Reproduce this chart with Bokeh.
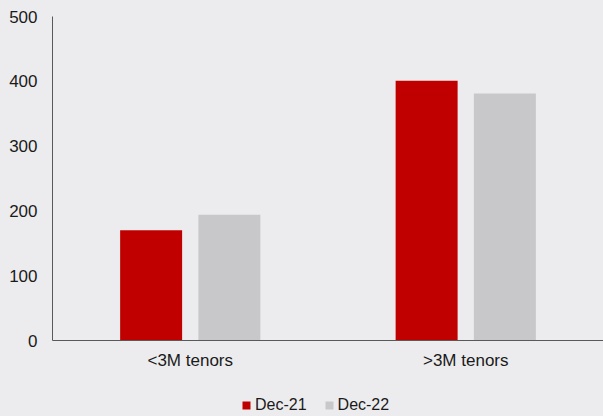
from bokeh.plotting import figure
from bokeh.layouts import column
from bokeh.models import Range1d, FixedTicker, Legend, LegendItem, ColumnDataSource
from bokeh.embed import file_html
from bokeh.resources import INLINE

categories = ["<3M tenors", ">3M tenors"]
series_names = ["Dec-21", "Dec-22"]
dec21 = [170, 401]
dec22 = [194, 381]
y_ticks = [0, 100, 200, 300, 400, 500]

BG = "#ECECEE"
RED = "#C00000"
GRAY = "#C8C8CA"
FONT = "Liberation Sans"

centers = [i + 0.5 for i in range(len(categories))]
offset = 0.142
bw = 0.225

p = figure(width=603, height=384, output_backend="svg",
           toolbar_location=None, x_range=Range1d(0, 2.0), y_range=Range1d(0, 500),
           min_border_left=52, min_border_right=0, min_border_top=16, min_border_bottom=44,
           background_fill_color=BG, border_fill_color=BG, outline_line_color=None)

src1 = ColumnDataSource(dict(x=[c - offset for c in centers], top=dec21))
src2 = ColumnDataSource(dict(x=[c + offset for c in centers], top=dec22))
r1 = p.vbar(x="x", top="top", width=bw, source=src1, fill_color=RED, line_color=None)
r2 = p.vbar(x="x", top="top", width=bw, source=src2, fill_color=GRAY, line_color=None)

p.xgrid.visible = False
p.ygrid.visible = False

for ax in (p.xaxis[0], p.yaxis[0]):
    ax.axis_line_color = "#595959"
    ax.axis_line_width = 1
    ax.major_tick_line_color = None
    ax.minor_tick_line_color = None
    ax.major_tick_out = 0
    ax.major_tick_in = 0
    ax.major_label_text_font = FONT
    ax.major_label_text_font_size = "17px"
    ax.major_label_text_color = "#1a1a1a"

p.yaxis[0].ticker = FixedTicker(ticks=y_ticks)
p.yaxis[0].major_label_standoff = 15
p.xaxis[0].ticker = FixedTicker(ticks=centers)
p.xaxis[0].major_label_overrides = {c: name for c, name in zip(centers, categories)}
p.xaxis[0].major_label_standoff = 10

# legend strip below the chart (its frame is aligned with the chart's frame)
lg = figure(width=603, height=32, output_backend="svg", toolbar_location=None,
            x_axis_type=None, y_axis_type=None, x_range=Range1d(0, 1), y_range=Range1d(0, 1),
            min_border=0, background_fill_color=BG, border_fill_color=BG,
            outline_line_color=None)
lg.xgrid.visible = False
lg.ygrid.visible = False
# swatch-only renderers placed outside the visible range
d1 = lg.vbar(x=[0.5], bottom=[-3], top=[-2], width=0.1, fill_color=RED, line_color=None)
d2 = lg.vbar(x=[0.5], bottom=[-3], top=[-2], width=0.1, fill_color=GRAY, line_color=None)

legend = Legend(items=[LegendItem(label=series_names[0], renderers=[d1]),
                       LegendItem(label=series_names[1], renderers=[d2])],
                orientation="horizontal", location=(189, 2),
                glyph_width=10, glyph_height=10, label_standoff=4, spacing=17,
                label_text_font=FONT, label_text_font_size="16px",
                label_text_color="#1a1a1a", border_line_color=None,
                background_fill_alpha=0, margin=0, padding=0)
legend.label_height = 16
lg.add_layout(legend, "center")

layout = column(p, lg, spacing=0)

html = file_html(layout, INLINE)
html = html.replace("<body>", '<body style="background-color:%s;">' % BG)
open("out.html", "w").write(html)
